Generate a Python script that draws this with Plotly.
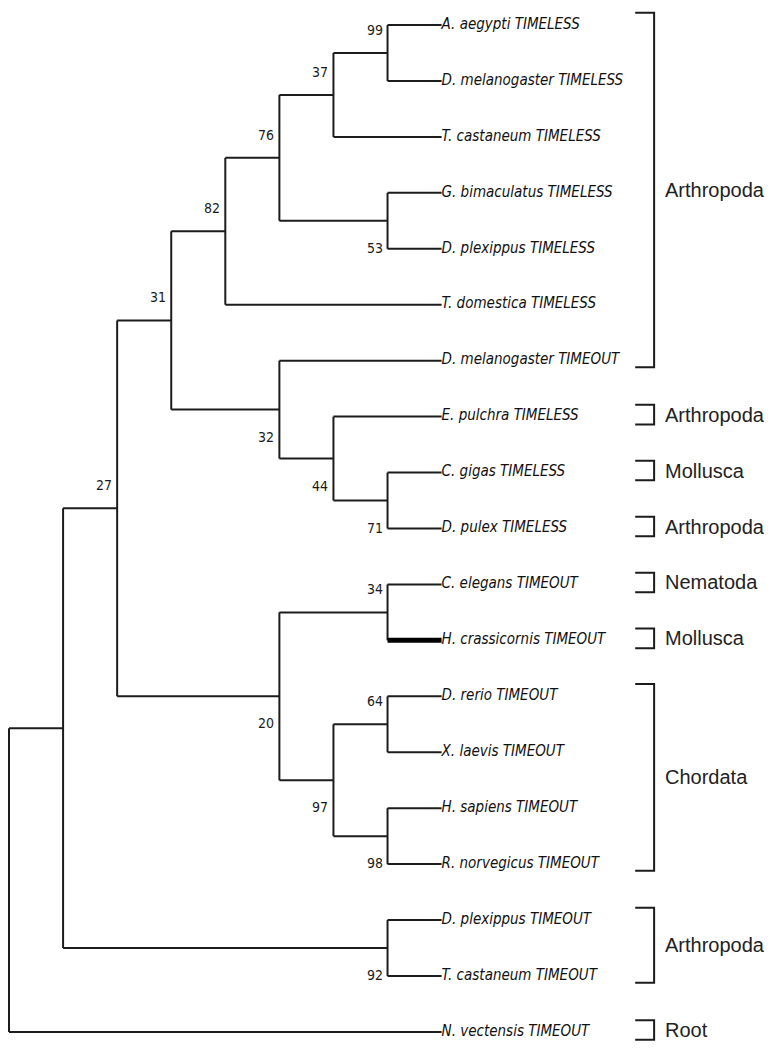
import plotly.graph_objects as go

# leaf labels, top to bottom
TAXA = [
    "A. aegypti TIMELESS", "D. melanogaster TIMELESS", "T. castaneum TIMELESS",
    "G. bimaculatus TIMELESS", "D. plexippus TIMELESS", "T. domestica TIMELESS",
    "D. melanogaster TIMEOUT", "E. pulchra TIMELESS", "C. gigas TIMELESS",
    "D. pulex TIMELESS", "C. elegans TIMEOUT", "H. crassicornis TIMEOUT",
    "D. rerio TIMEOUT", "X. laevis TIMEOUT", "H. sapiens TIMEOUT",
    "R. norvegicus TIMEOUT", "D. plexippus TIMEOUT", "T. castaneum TIMEOUT",
    "N. vectensis TIMEOUT",
]

# topology (leaf = index into TAXA), bootstrap support after each clade
NEWICK = (
    "((((((((0,1)99,2)37,(3,4)53)76,5)82,(6,(7,(8,9)71)44)32)31,"
    "((10,11)34,((12,13)64,(14,15)98)97)20)27,(16,17)92),18);"
)

HIGHLIGHT = ["H. crassicornis TIMEOUT"]

# (phylum, first taxon, last taxon)
GROUPS = [
    ("Arthropoda", "A. aegypti TIMELESS", "D. melanogaster TIMEOUT"),
    ("Arthropoda", "E. pulchra TIMELESS", "E. pulchra TIMELESS"),
    ("Mollusca", "C. gigas TIMELESS", "C. gigas TIMELESS"),
    ("Arthropoda", "D. pulex TIMELESS", "D. pulex TIMELESS"),
    ("Nematoda", "C. elegans TIMEOUT", "C. elegans TIMEOUT"),
    ("Mollusca", "H. crassicornis TIMEOUT", "H. crassicornis TIMEOUT"),
    ("Chordata", "D. rerio TIMEOUT", "R. norvegicus TIMEOUT"),
    ("Arthropoda", "D. plexippus TIMEOUT", "T. castaneum TIMEOUT"),
    ("Root", "N. vectensis TIMEOUT", "N. vectensis TIMEOUT"),
]

LINE = "#1c1c1c"
NARROW = "Liberation Sans Narrow, DejaVu Sans Condensed, sans-serif"


def parse(s, i=0):
    if s[i] == "(":
        kids = []
        i += 1
        while True:
            child, i = parse(s, i)
            kids.append(child)
            if s[i] == ",":
                i += 1
            else:
                break
        i += 1
        j = i
        while i < len(s) and s[i] not in ",();":
            i += 1
        return {"kids": kids, "support": s[j:i]}, i
    j = i
    while s[i] not in ",();":
        i += 1
    return {"leaf": int(s[j:i])}, i


def place(node):
    if "leaf" in node:
        node["h"], node["y"] = 0, node["leaf"]
        return
    for k in node["kids"]:
        place(k)
    node["h"] = 1 + max(k["h"] for k in node["kids"])
    node["y"] = (node["kids"][0]["y"] + node["kids"][-1]["y"]) / 2


tree, _ = parse(NEWICK)
place(tree)
depth = tree["h"]

seg_x, seg_y, thick_x, thick_y, supports = [], [], [], [], []


def walk(node, above=None):
    x = depth - node["h"]
    if "kids" not in node:
        return
    if node.get("support") and above is not None:
        supports.append((x, node["y"], node["support"], above))
    kids = node["kids"]
    seg_x.extend([x, x, None])
    seg_y.extend([kids[0]["y"], kids[-1]["y"], None])
    for n, k in enumerate(kids):
        kx = depth - k["h"]
        if "leaf" in k and TAXA[k["leaf"]] in HIGHLIGHT:
            thick_x.extend([x, kx, None])
            thick_y.extend([k["y"], k["y"], None])
        else:
            seg_x.extend([x, kx, None])
            seg_y.extend([k["y"], k["y"], None])
        walk(k, n == 0)


walk(tree)

fig = go.Figure()
fig.add_trace(go.Scatter(x=seg_x, y=seg_y, mode="lines",
                         line=dict(color=LINE, width=2)))
fig.add_trace(go.Scatter(x=thick_x, y=thick_y, mode="lines",
                         line=dict(color="#000000", width=5)))
fig.add_trace(go.Scatter(
    x=[depth] * len(TAXA), y=list(range(len(TAXA))), mode="text",
    text=[f"<i>{t}</i>" for t in TAXA], textposition="middle right",
    textfont=dict(family=NARROW, size=15, color="#111"),
))

for x, y, s, above in supports:
    fig.add_annotation(x=x, y=y, text=s, showarrow=False, xanchor="right",
                       yanchor="middle", xshift=-3, yshift=23 if above else -27,
                       font=dict(family=NARROW, size=14, color="#1a1a1a"))

# phylum brackets
bx0, bx1 = 11.58, 11.93
br_x, br_y = [], []
for name, first, last in GROUPS:
    a, b = TAXA.index(first), TAXA.index(last)
    if a == b:
        top, bot = a - 0.21, b + 0.14
    else:
        top, bot = a - 0.22, b + 0.12
    br_x.extend([bx0, bx1, bx1, bx0, None])
    br_y.extend([top, top, bot, bot, None])
    fig.add_annotation(x=12.1, y=(top + bot) / 2, text=name, showarrow=False,
                       xanchor="left", yanchor="middle",
                       font=dict(family="Liberation Sans, Arial, sans-serif",
                                 size=20, color="#222"))
fig.add_trace(go.Scatter(x=br_x, y=br_y, mode="lines",
                         line=dict(color=LINE, width=2)))

# page body keeps an 8px margin, so the figure is 8px smaller each way
fig.update_layout(
    width=764,
    height=1042,
    autosize=False,
    margin=dict(l=0, r=0, t=0, b=0),
    paper_bgcolor="white",
    plot_bgcolor="white",
    showlegend=False,
    hovermode=False,
    xaxis=dict(range=[-0.0185, 14.11], visible=False, fixedrange=True),
    yaxis=dict(range=[18.323, -0.304], visible=False, fixedrange=True),
)
fig.write_html("out.html")
